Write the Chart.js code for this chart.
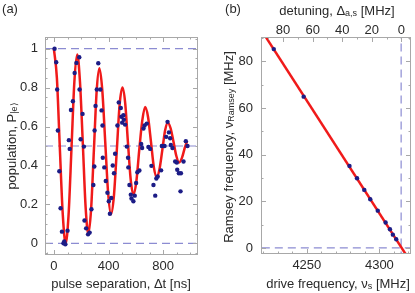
<!DOCTYPE html>
<html>
<head>
<meta charset="utf-8">
<script src="https://cdn.jsdelivr.net/npm/chart.js@4.4.1/dist/chart.umd.min.js"></script>
<style>
  body { margin: 0; background: #fff; }
  canvas { position: absolute; top: 0; }
  #ca { left: 0; }
  #cb { left: 212px; }
</style>
</head>
<body>
<canvas id="ca" width="212" height="293"></canvas>
<canvas id="cb" width="203" height="293"></canvas>
<script>
// (a) Ramsey fringes: measured points
const pulseT = [5, 17, 24, 29, 40, 49, 59, 70, 76, 84, 100, 110, 116, 125, 139, 152, 165, 186, 188, 196,
  210, 220, 224, 236, 250, 262, 275, 289, 296, 298, 305, 314, 325, 340, 349, 356, 358, 369, 380, 392,
  402, 410, 420, 431, 440, 448, 465, 475, 490, 495, 500, 509, 512, 521, 534, 543, 545, 553, 563, 568,
  582, 592, 602, 611, 626, 639, 646, 656, 664, 680, 692, 705, 714, 729, 742, 750, 760, 785, 790, 810,
  822, 832, 842, 851, 856, 868, 888, 900, 903, 915, 927, 930, 949, 966, 978];
const popP = [1.00, 0.93, 0.79, 0.58, 0.37, 0.18, 0.06, 0.00, 0.01, -0.005, 0.065, 0.53, 0.485, 0.685, 0.73, 0.875, 0.927, 0.956, 0.79, 0.535,
  0.665, 0.497, 0.117, 0.077, 0.046, 0.055, 0.175, 0.30, 0.395, 0.58, 0.706, 0.79, 0.925, 0.79, 0.683, 0.605, 0.44, 0.39, 0.32, 0.26,
  0.216, 0.152, 0.233, 0.40, 0.36, 0.46, 0.605, 0.724, 0.695, 0.65, 0.62, 0.658, 0.635, 0.61, 0.497, 0.44, 0.39, 0.30, 0.25, 0.23,
  0.216, 0.245, 0.31, 0.365, 0.374, 0.51, 0.49, 0.59, 0.605, 0.615, 0.495, 0.485, 0.398, 0.30, 0.245, 0.333, 0.343, 0.375, 0.50, 0.50,
  0.547, 0.624, 0.57, 0.54, 0.505, 0.49, 0.42, 0.415, 0.378, 0.36, 0.267, 0.36, 0.42, 0.525, 0.50];

// (a) fitted curve
const curveT = [0, 22, 43, 65, 86, 107, 129, 150, 171, 191, 212, 232, 252, 272, 293, 313, 333, 354, 376, 397,
  418, 439, 460, 481, 502, 522, 542, 562, 582, 604, 625, 647, 668, 689, 711, 732, 753, 773, 794, 814,
  834, 855, 876, 896, 917, 938, 958, 975];
const curveP = [1.0, 0.85, 0.5, 0.15, 0.0, 0.14, 0.49, 0.83, 0.97, 0.83, 0.51, 0.19, 0.05, 0.17, 0.48, 0.78, 0.90, 0.79, 0.52, 0.26,
  0.15, 0.24, 0.47, 0.71, 0.80, 0.72, 0.52, 0.33, 0.25, 0.32, 0.48, 0.63, 0.70, 0.65, 0.52, 0.39, 0.34, 0.38, 0.48, 0.58,
  0.62, 0.59, 0.52, 0.45, 0.415, 0.44, 0.49, 0.525];

const refLevels = [0, 0.5, 1];

const aXTicks = [0, 400, 800];
const aXMinor = [-50, 100, 200, 300, 500, 600, 700, 900, 1000];
const aYTicks = [0, 0.2, 0.4, 0.6, 0.8, 1];
const aYLabels = ["0", "0.2", "0.4", "0.6", "0.8", "1"];
const aYMinor = [-0.05, 0.05, 0.1, 0.15, 0.25, 0.3, 0.35, 0.45, 0.5, 0.55, 0.65, 0.7, 0.75, 0.85, 0.9, 0.95, 1.05];

// (b) Ramsey frequency vs drive frequency
const driveNu = [4227.2, 4247.8, 4279.4, 4284.6, 4289.6, 4293.7, 4298.9, 4304.3, 4307.3, 4309.3, 4311.6];
const ramseyR = [85.3, 64.9, 35.2, 29.9, 24.9, 20.9, 16.0, 10.9, 8.0, 5.7, 3.7];
const fitNu = [4215, 4322];
const fitR = [97.0, -6.4];
const resonance = 4315;

const bXTicks = [4250, 4300];
const bXMinor = [4220, 4230, 4240, 4260, 4270, 4280, 4290, 4310, 4320];
const bTopTicks = [0, 20, 40, 60, 80];
const bTopMinor = [-5, 10, 30, 50, 70, 90];
const bYTicks = [0, 20, 40, 60, 80];
const bYMinor = [10, 30, 50, 70, 90];

const FONT = "'Liberation Sans', Arial, sans-serif";
const TXT = "#2a2a2a";
const DOT = "#1c1c86";
const RED = "#f01a1a";
const DASH = "#8c8cd2";
const FRAME = "#a8a8a8";

Chart.defaults.font.family = FONT;
Chart.defaults.font.size = 13;
Chart.defaults.color = TXT;

const pts = (xs, ys) => xs.map((x, i) => ({ x: x, y: ys[i] }));
const setTicks = vals => s => { s.ticks = vals.map(v => ({ value: v })); };

// frame with inward ticks, Mathematica style
const frameTicks = {
  id: "frameTicks",
  afterDatasetsDraw(chart, args, opts) {
    const { ctx, chartArea: a } = chart;
    ctx.save();
    ctx.strokeStyle = FRAME;
    ctx.lineWidth = 1;
    ctx.strokeRect(Math.round(a.left) + 0.5, Math.round(a.top) + 0.5,
      Math.round(a.right - a.left) - 1, Math.round(a.bottom - a.top) - 1);
    ctx.beginPath();
    opts.sides.forEach(s => {
      const sc = chart.scales[s.scale];
      [[s.minor, 2.5], [s.major, 5]].forEach(([vals, len]) => {
        vals.forEach(v => {
          const p = Math.round(sc.getPixelForValue(v)) + 0.5;
          s.edges.forEach(e => {
            if (e === "bottom") { ctx.moveTo(p, a.bottom); ctx.lineTo(p, a.bottom - len); }
            if (e === "top") { ctx.moveTo(p, a.top); ctx.lineTo(p, a.top + len); }
            if (e === "left") { ctx.moveTo(a.left, p); ctx.lineTo(a.left + len, p); }
            if (e === "right") { ctx.moveTo(a.right, p); ctx.lineTo(a.right - len, p); }
          });
        });
      });
    });
    ctx.stroke();
    ctx.restore();
  }
};

// axis titles with subscripts
function drawRich(ctx, x, y, rot, parts) {
  ctx.save();
  ctx.translate(x, y);
  ctx.rotate(rot);
  let total = 0;
  parts.forEach(p => {
    ctx.font = p[1] + "px " + FONT;
    p.w = ctx.measureText(p[0]).width;
    total += p.w;
  });
  let cx = -total / 2;
  ctx.textBaseline = "middle";
  ctx.fillStyle = TXT;
  parts.forEach(p => {
    ctx.font = p[1] + "px " + FONT;
    ctx.fillText(p[0], cx, p[2] || 0);
    cx += p.w;
  });
  ctx.restore();
}

const richTitles = {
  id: "richTitles",
  afterDraw(chart, args, opts) {
    opts.items.forEach(it => drawRich(chart.ctx, it.x, it.y, it.rot || 0, it.parts));
  }
};

const noAxisLine = { display: false };
const noGrid = { display: false, drawTicks: false };

new Chart(document.getElementById("ca"), {
  type: "scatter",
  data: {
    datasets: [
      { data: pts(pulseT, popP), backgroundColor: DOT, pointRadius: 2.2, pointBorderWidth: 0 },
      { type: "line", data: pts(curveT, curveP), borderColor: RED, borderWidth: 2.5,
        pointRadius: 0, cubicInterpolationMode: "monotone", fill: false },
      ...refLevels.map(v => ({
        type: "line", data: [{ x: -65, y: v }, { x: 1055, y: v }], borderColor: DASH,
        borderWidth: 1.2, borderDash: [8, 5], pointRadius: 0
      }))
    ]
  },
  options: {
    responsive: false,
    animation: false,
    layout: { padding: { top: 37, right: 14, left: 0, bottom: 0 } },
    plugins: {
      legend: { display: false },
      tooltip: { enabled: false },
      frameTicks: { sides: [
        { scale: "x", edges: ["bottom", "top"], major: aXTicks, minor: aXMinor },
        { scale: "y", edges: ["left", "right"], major: aYTicks, minor: aYMinor }
      ] },
      richTitles: { items: [
        { x: 10, y: 9, parts: [["(a)", 13]] },
        { x: 121, y: 284, parts: [["pulse separation, \u0394t [ns]", 13]] },
        { x: 12, y: 146, rot: -Math.PI / 2, parts: [["population, P", 13], ["|e\u27E9", 9, 3]] }
      ] }
    },
    scales: {
      x: {
        type: "linear", min: -65, max: 1055,
        grid: noGrid, border: noAxisLine,
        afterBuildTicks: setTicks(aXTicks),
        afterFit: s => { s.height = 38; },
        ticks: { padding: 4, maxRotation: 0 }
      },
      y: {
        type: "linear", min: -0.06, max: 1.06,
        grid: noGrid, border: noAxisLine,
        afterBuildTicks: setTicks(aYTicks),
        afterFit: s => { s.width = 45; },
        ticks: { padding: 7, callback: v => aYLabels[aYTicks.indexOf(v)] }
      }
    }
  },
  plugins: [frameTicks, richTitles]
});

new Chart(document.getElementById("cb"), {
  type: "scatter",
  data: {
    datasets: [
      { data: pts(driveNu, ramseyR), backgroundColor: DOT, pointRadius: 2.2, pointBorderWidth: 0 },
      { type: "line", data: pts(fitNu, fitR), borderColor: RED, borderWidth: 2.5, pointRadius: 0 },
      { type: "line", data: [{ x: 4210, y: 0 }, { x: 4330, y: 0 }], borderColor: DASH,
        borderWidth: 1.2, borderDash: [8, 5], pointRadius: 0 },
      { type: "line", data: [{ x: resonance, y: -5 }, { x: resonance, y: 95 }], borderColor: DASH,
        borderWidth: 1.2, borderDash: [8, 5], pointRadius: 0 }
    ]
  },
  options: {
    responsive: false,
    animation: false,
    layout: { padding: { top: 0, right: 2, left: 0, bottom: 0 } },
    plugins: {
      legend: { display: false },
      tooltip: { enabled: false },
      frameTicks: { sides: [
        { scale: "x", edges: ["bottom"], major: bXTicks, minor: bXMinor },
        { scale: "x2", edges: ["top"], major: bTopTicks, minor: bTopMinor },
        { scale: "y", edges: ["left", "right"], major: bYTicks, minor: bYMinor }
      ] },
      richTitles: { items: [
        { x: 21, y: 9, parts: [["(b)", 13]] },
        { x: 125, y: 11, parts: [["detuning, \u0394", 13], ["a,s", 9, 3], [" [MHz]", 13]] },
        { x: 126, y: 284, parts: [["drive frequency, \u03BD", 13], ["s", 9, 3], [" [MHz]", 13]] },
        { x: 17, y: 147, rot: -Math.PI / 2, parts: [["Ramsey frequency, \u03BD", 13], ["Ramsey", 9, 3], [" [MHz]", 13]] }
      ] }
    },
    scales: {
      x: {
        type: "linear", position: "bottom", min: 4218.4, max: 4321.8,
        grid: noGrid, border: noAxisLine,
        afterBuildTicks: setTicks(bXTicks),
        afterFit: s => { s.height = 39; },
        ticks: { padding: 4, maxRotation: 0, callback: v => String(v) }
      },
      x2: {
        type: "linear", position: "top", min: -6.5, max: 94.9, reverse: true,
        grid: noGrid, border: noAxisLine,
        afterBuildTicks: setTicks(bTopTicks),
        afterFit: s => { s.height = 37; },
        ticks: { padding: -1, maxRotation: 0 }
      },
      y: {
        type: "linear", min: -2.6, max: 90.5,
        grid: noGrid, border: noAxisLine,
        afterBuildTicks: setTicks(bYTicks),
        afterFit: s => { s.width = 49; },
        ticks: { padding: 8 }
      }
    }
  },
  plugins: [frameTicks, richTitles]
});
</script>
</body>
</html>
